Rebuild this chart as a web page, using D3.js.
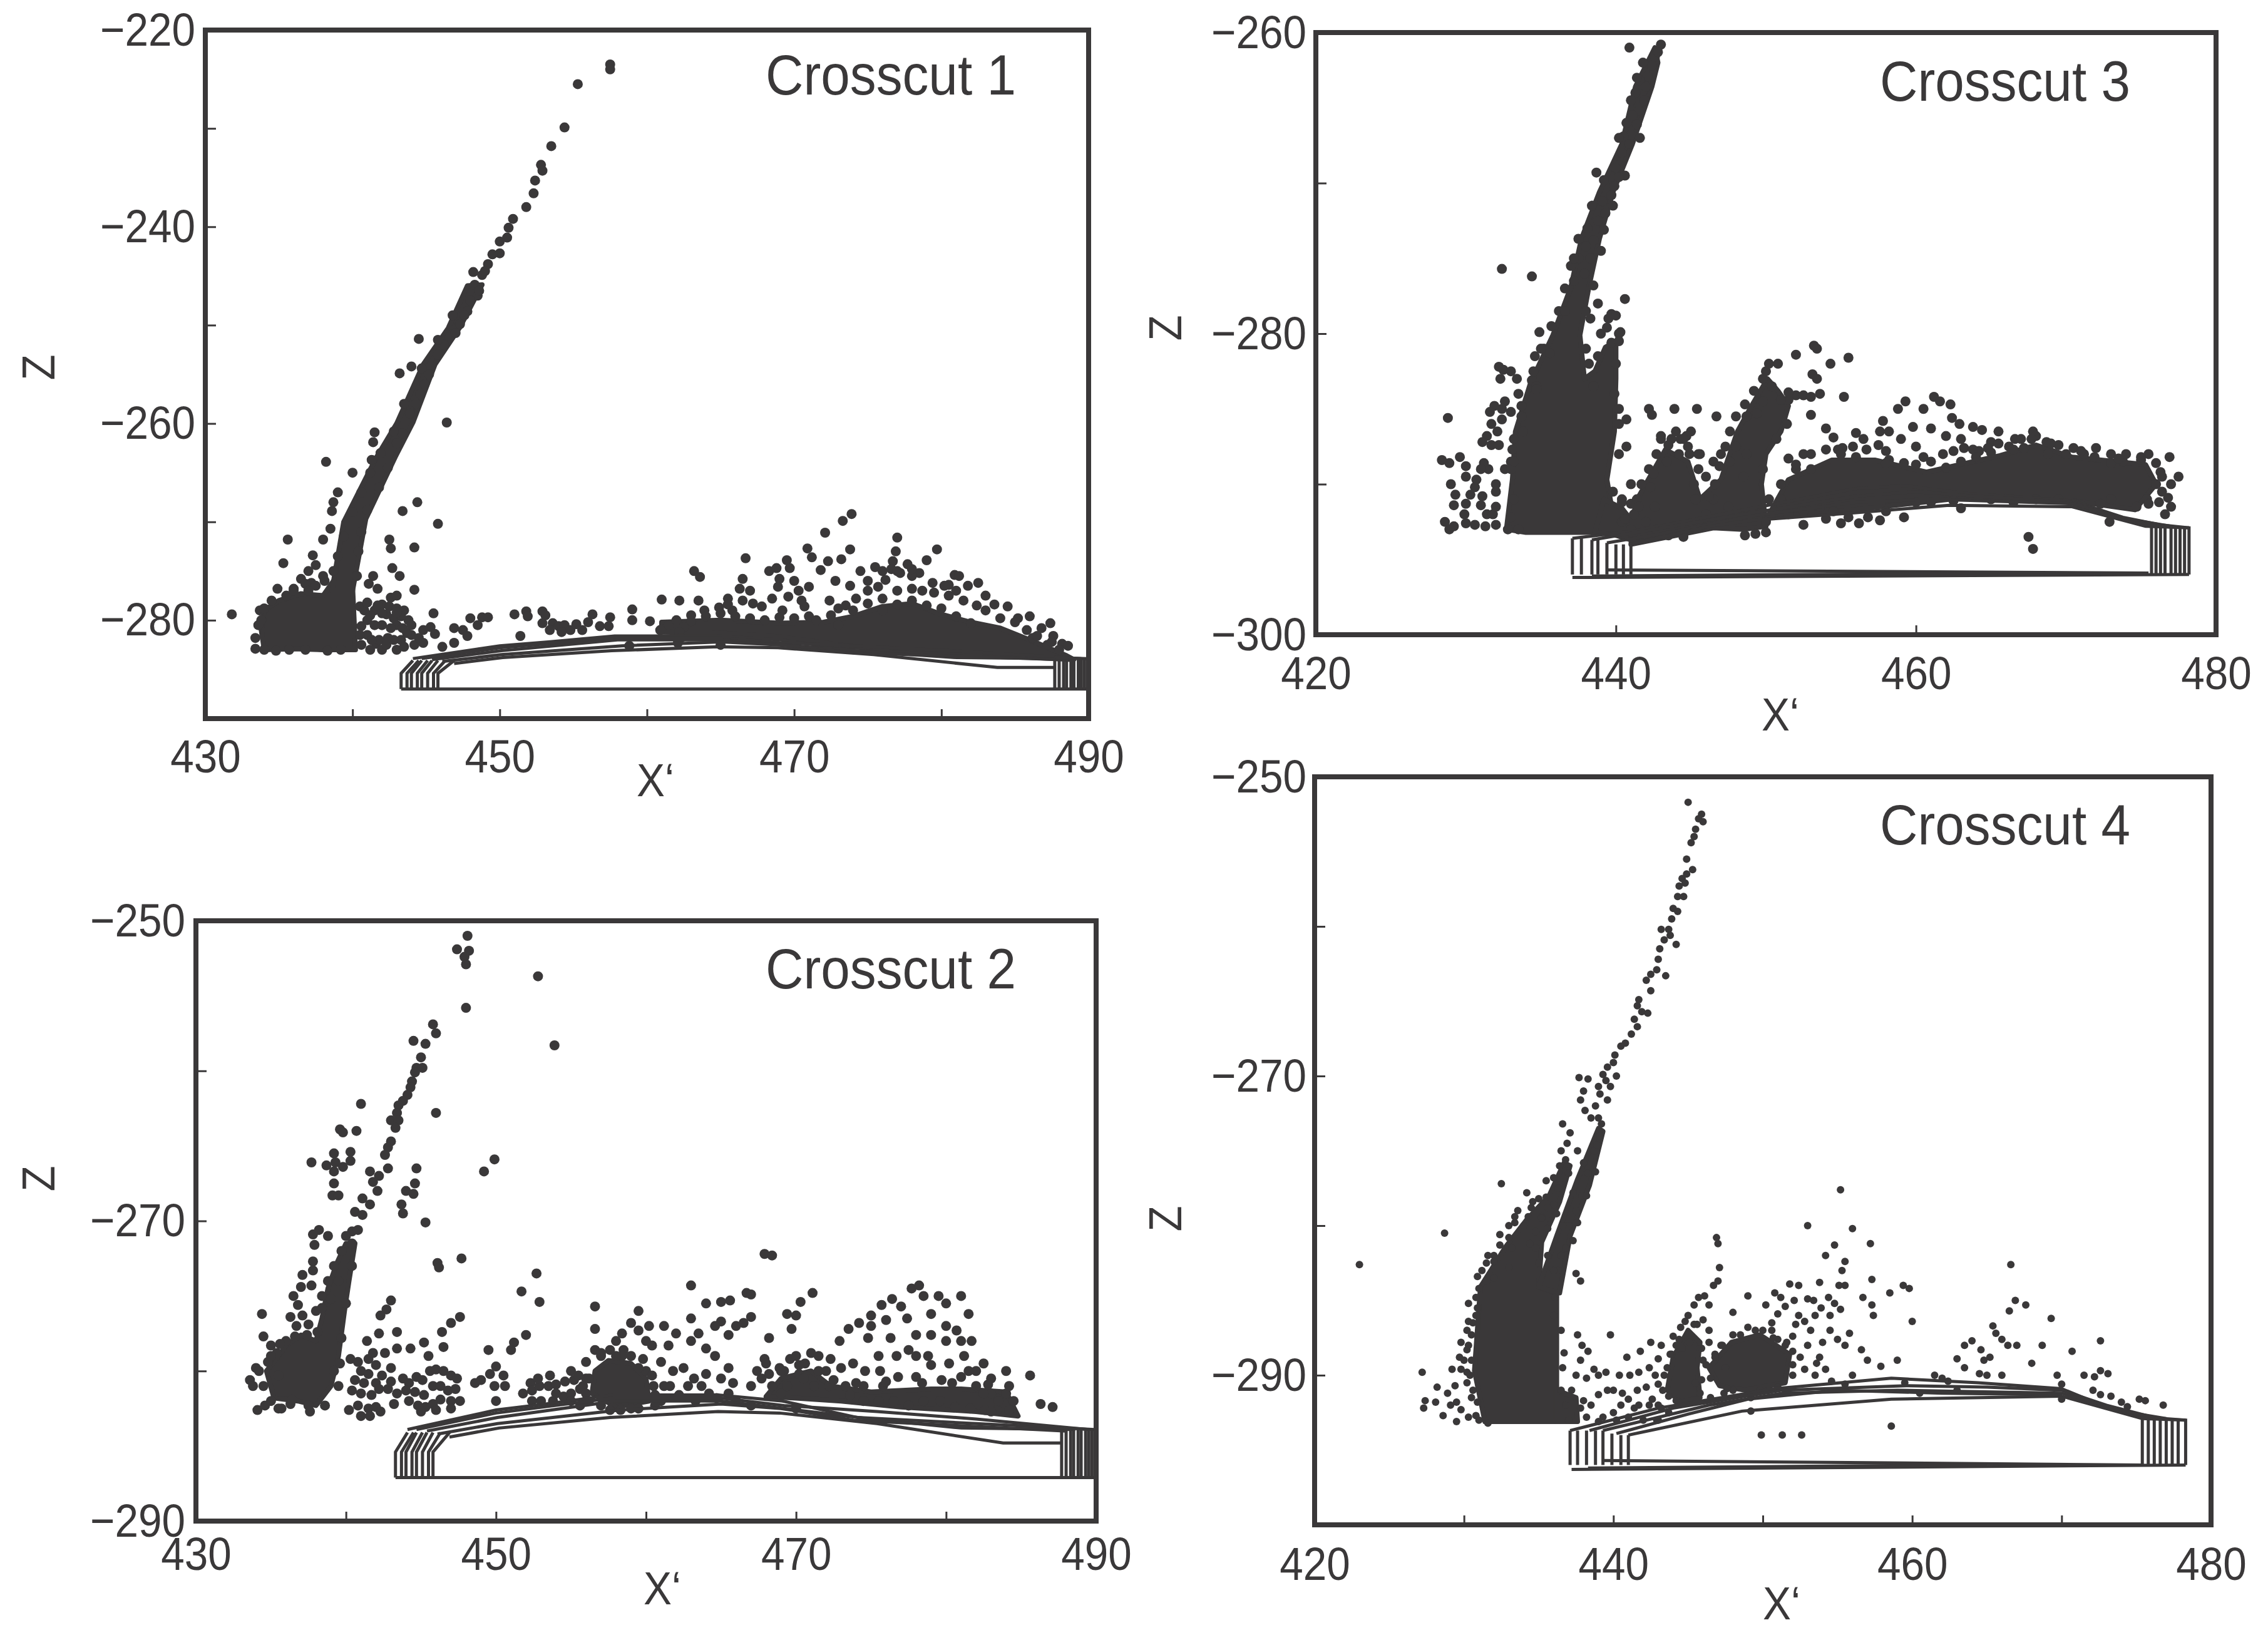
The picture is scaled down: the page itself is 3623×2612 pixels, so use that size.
<!DOCTYPE html>
<html>
<head>
<meta charset="utf-8">
<script src="https://cdn.jsdelivr.net/npm/d3@7"></script>
<style>
body { margin: 0; background: #fff; }
text { font-family: "Liberation Sans", Arial, sans-serif; fill: #3a3839; }
</style>
</head>
<body>
<div id="chart"></div>
<script>
var ink = "#3a3839";

// crosscut 1 : scattered events [x', z]
var cut1Dots = [[457.5,-223.5],[457.5,-224],[455.3,-225.5],[454.4,-229.9],[453.5,-231.8],[452.8,-233.7],[452.9,-234.3],[452.4,-235.3],[452.3,-236.6],[451.8,-238],[450.9,-239.2],[450.6,-240.1],[450.5,-241.1],[450,-241.5],[450,-242.7],[449.5,-242.8],[449.2,-243.8],[448.8,-244.9],[448.3,-245.9],[448.5,-247],[447.8,-248.6],[447.3,-249.9],[446.6,-251.2],
[444.5,-251.4],[443.2,-254.9],[444,-254.2],[444.7,-254.4],[446.4,-259.9],[441.5,-260.9],[441.4,-261.9],[441.3,-263.7],[438.2,-263.9],[440,-265],[439,-267],[438.7,-268],[444.4,-268],[443.4,-268.9],[445.8,-270.2],[438.6,-268.9],[438,-271.8],[438.5,-270.7],[435.6,-271.8],[442.5,-271.8],[442.6,-272.7],[444.2,-272.6],[435.3,-274.2],[437.3,-273.4],[437.5,-274.4],[437,-275],[436.5,-275.8],[442.7,-274.7],[443.2,-275.5],[441.4,-275.5],[441.1,-276.3],[441.7,-276.8],[444.2,-276.9],[434.9,-276.8],[431.8,-279.4],[436,-276.8],[437.2,-276.2],[438.1,-276],
[433.7,-279],[433.6,-280.5],[433.4,-281.8],[433.4,-282.9],[434,-283],[434.8,-283.1],[435.7,-283],[436.8,-283],[438.3,-283.1],[439.2,-283],
[440.5,-278.6],[441,-280],[441.5,-279],[442,-278.4],[442.5,-278.6],[443,-278.8],[443.5,-279],[441,-281.5],[441.6,-282.4],[442,-280.5],[442.4,-281.8],[443,-280.5],[443.3,-282],[443.8,-280],[444,-281.5],[440.6,-282.5],[441.2,-283],[442,-283],[443,-283],[444.2,-282.5],[441.5,-280.5],[442.8,-279.8],[440.8,-279],[441.8,-282],[442.6,-280.8],[443.4,-280.8],[440.6,-280.6],[442.3,-279.4],
[445.5,-279.3],[445.3,-280.7],[444.8,-281],[445.6,-281.4],[444.8,-282.3],[446.1,-282.7],[446.9,-280.8],[447.5,-281],[448,-279.8],[447.8,-281.6],[448.8,-279.7],[449.2,-279.7],[448.5,-280.5],[446.9,-282.3],
[451,-279.4],[451.8,-279.1],[451.9,-279.6],[451.4,-281.6],[452.9,-279.1],[453.1,-279.5],[452.9,-280.3],[453.6,-280.3],[454,-280.6],[454.4,-280.5],[454.8,-281],[455.2,-280.4],[455.6,-281],[453.4,-281],[454.2,-281.2],[456.3,-279.4],[456,-280.2],[456.8,-280.6],[457.5,-279.7],[457.4,-280.6],[459,-278.9],[459,-280],[460.2,-280.1],[458.8,-282.6],[461,-277.9],[462.2,-278],[462.1,-282.3],[465,-282.5],[461.5,-280.5],[460.9,-281],
[463.2,-275],[463.6,-275.6],[466.7,-273.7],[466.5,-275.8],[468.3,-275],[468.8,-274.7],[469.5,-273.9],[469.7,-274.7],[470.9,-272.7],[471.2,-273.6],[472.1,-271.1],[473.3,-269.9],[473.9,-269.2],[473.8,-272.8],[473.2,-273.8],[472.3,-274],[471.8,-274.9],[477,-271.6],[476.9,-273],[476.7,-274],[479.7,-272.8],[479,-273.9],[478.5,-275.2],[480.9,-275.4],[481.2,-275.5],[469,-275.8],[468.9,-276.6],[470,-276],[470.3,-277],[471,-276.6],[469.6,-277.6],[467,-277],[466.3,-276.8],[465.5,-277.8],[466.5,-278],[464.9,-278.7],[463.9,-279],[463,-279.5],[465.8,-279],[467.8,-278.6],[469.2,-279],[470.7,-278.6],[472.4,-278],[472.8,-276],[473.8,-276.5],[474.5,-275],[475.5,-274.6],[476,-275],[476.6,-274.8],[475,-276],[477.2,-275.2],[478,-275.5],[479.4,-276.2],[480.5,-276.4],[481,-277],[481.8,-276.5],[482.5,-276.2],[483,-277.5],[483.6,-278.4],[484.5,-278.6],[485.2,-279.8],[486,-279.6],[486.8,-280.8],[487.4,-280.3],[487.6,-281.6],[488.2,-282.4],[488.6,-282.6],[487.2,-282.5],[486.2,-281.8]];
var cut1More = [[449,-244.5],[448.6,-246.5],[448,-247.5],[447.6,-249],[447,-250.8],[446.2,-252],[445.8,-253],[445.2,-255],[444.9,-256],[444.3,-258],[443.9,-259],[443.4,-261],[443,-262],
[434.5,-278],[435.5,-277.5],[436,-277],[436.8,-276.3],[437.5,-276.5],[434,-278.8],[433.8,-280],[437,-277],[438,-275.5],
[441,-278.2],[441.7,-278.5],[442.6,-277.7],[443,-277.5],[440.5,-281.5],[441.3,-282],[442.3,-282.5],[443.5,-282.7],[444.5,-281.8],[443.7,-281.3],[442.8,-282],[441.2,-279.5],[442,-279.3],[443.3,-279.6],[443,-279.2],[444,-280.5],
[472.5,-279.5],[473,-278.8],[473.5,-278.5],[474.2,-277.8],[475,-277],[475.7,-276.6],[476.2,-275.9],[477,-275],[477.7,-274.3],[478,-274.8],[474,-279],[475,-278.3],[476,-277.8],[477,-277],[478,-276.8],[478.7,-277],[479.5,-277.2],[480.5,-277.5],[481.5,-278],[482.4,-278.5],[483,-279],[484,-279.8],[485,-280.2],[485.8,-281],[486.5,-281.6],[487.5,-282.2],[488,-283],[473,-280.5],[480,-278.8],[481,-279.6],[482,-280.3],[478,-278],[479,-278.5],[477,-278.4],[480.2,-276.5],[476,-279],
[462,-280],[463,-280.1],[464,-279.6],[465,-279.3],[466,-279.6],[467,-279.8],[468,-280],[469,-279.7],[470,-279.8],[471,-279.6],[471.5,-280],[465.5,-278.4],[467.2,-278.3],[468.5,-277.8],[470.5,-278],[463.5,-278],[462.5,-280.7],[462.2,-281.2],[462.3,-281.8]];
var cut1Edge = [[442.8,-260.8],[441.9,-263],[441.2,-265],[442.4,-264.5],[440.6,-267],[441.8,-266.5],[440,-269],[441,-268.8],[439.4,-271.5],[440.6,-271],[439,-273.5],[440.4,-273],[438.7,-275],[440.3,-275.5],[444.6,-257],[443.5,-258],[445.8,-251.5],[446.8,-249],[448.2,-244.6]];
var cut1Core = [
  [[434,-279],[435,-278],[436.5,-277.3],[438,-277.5],[438.7,-276],[440,-276.5],[440.2,-283],[438,-283],[436,-282.9],[434,-283],[433.8,-281]],
  [[438.6,-277],[439.4,-270],[441.6,-263.5],[443,-260],[444.8,-254],[446.5,-250.3],[447.8,-246],[448.8,-245.9],[447.3,-250.2],[445.6,-254],[444.1,-259.9],[442.9,-263.4],[440.9,-269.7],[440,-277]],
  [[461,-280.2],[465,-280],[469,-280.3],[472,-280.2],[474,-279.6],[476,-278.6],[478,-278.3],[480,-279.4],[482,-280.2],[484,-280.8],[486,-282],[488.5,-283.6],[489,-284],[480,-283.3],[474,-282.7],[469,-281.7],[465,-281.3],[461,-281.2]]
];

// crosscut 2
var cut2Dots = [[448.1,-251],[447.4,-251.9],[448.2,-252],[447.9,-252.4],[448,-252.9],[452.8,-253.7],[448,-255.8],[453.9,-258.3],[445.8,-256.9],[446,-257.5],[444.5,-258],[445.3,-258.2],[445,-259.1],[444.7,-259.8],[445.1,-259.8],[444.6,-260.1],[444.4,-260.7],[444.3,-261.1],[444.1,-261.6],[443.8,-262],[443.5,-262.3],[443.4,-262.8],[443,-263.3],[443.5,-263.3],[443.3,-263.8],[441,-262.2],[446,-262.8],[439.6,-263.9],[439.8,-264.1],[440.7,-264],[443,-264.7],[442.8,-265.1],[442.6,-265.6],[440.3,-265.4],[439.2,-265.5],[449.9,-265.9],[449.2,-266.7],[437.7,-266.1],[438.7,-266.3],[439.3,-266.1],[440.3,-266],[439.2,-266.7],[439.8,-266.4],[444.7,-266.5],[441.6,-266.7],[442.8,-266.5],[442.2,-267],[441.8,-267.4],[444.6,-267.5],[439.2,-267.5],[442.1,-268],[444,-268],[444.5,-268.2],[439.1,-268.3],[439.5,-268.3],[443.7,-268.9],[443.8,-269.5],[445.3,-270.1],
[441.1,-268.5],[441.6,-268.9],[440.6,-269.4],[441.1,-269.6],[440.4,-270.7],[440.8,-270.6],[440.4,-271.5],
[438.2,-270.6],[437.8,-270.9],[438.8,-271],[437.9,-271.6],[437.8,-272.7],[437.1,-273.6],[437.8,-273.3],[437,-274.4],[437.7,-274.3],[436.5,-275],[436.8,-275.6],[434.4,-276.2],[436.3,-276.4],[437.1,-276.3],[446.1,-272.8],[446.2,-273.1],[447.7,-272.5],[452.7,-273.5],[451.7,-274.7],[452.9,-275.4],[456.6,-275.7],[456.6,-277.2],[452,-277.6],[443,-275.3],[442.7,-275.9],[442.3,-276.3],[443.4,-277.4],[442.2,-277.5],[447.6,-276.4],[447,-276.8],[446.4,-277.4],[443.4,-278.5],[441.4,-278],[444.3,-278.5],[445.2,-278.1],[446.5,-278.4],[445.5,-279],[449.5,-278.6],[451.2,-278.1],[451,-278.6],
[434.5,-277.7],[435,-278.3],[434,-279.8],[433.6,-280.6],[433.8,-281],[434.1,-282.6],[434.6,-282.3],[435.5,-282.5],[436.3,-282.2],[438.6,-282.3],
[440.3,-279.2],[440.8,-279.4],[441.5,-279.2],[442,-279.6],[441,-280],[441.5,-280.2],[440.6,-280.6],[441.2,-280.8],[442,-280.8],[442.4,-280.3],[440.4,-281.3],[441,-281.5],[441.7,-281.6],[442.2,-281.2],[440.8,-282.3],[441.5,-282.5],[442,-282.4],[442.8,-281.2],[443,-280.7],[443.4,-281.5],
[443.8,-280.5],[444.2,-280.8],[444.7,-280.4],[445.1,-280.6],[445.6,-280],[446,-279.9],[446.5,-280],[447,-280.3],[447.4,-280.5],[444,-281.3],[444.6,-281.4],[445.2,-281.6],[445.8,-281],[446.3,-281],[446.8,-281.3],[447.3,-281.2],[444.2,-282],[444.8,-282.3],[445.3,-282.4],[445.8,-282.2],[446.3,-281.9],[447,-282],[447.6,-282],[448.6,-280.8],[449,-280.6],[449.6,-280.2],[450,-279.7],[450.5,-280.3],[449.9,-281],[450,-282],[450.6,-281],
[452.3,-280.8],[452.4,-281.3],[452.9,-281],[453.5,-281],[454,-280.9],[454.6,-280.7],[455.2,-280.6],[453,-282],[453.8,-282],[454.5,-281.7],[455,-281.5],[455.6,-281.2],[456,-279.4],[456,-280.5],[456.6,-278.6],[458,-278],[458.4,-277.5],[459.5,-277.3],[459,-276.8],[458.5,-278.6],[459.8,-279.2],[460.4,-278.3],[461,-279.4],[461.5,-278.3],[462,-277.5],[463,-276.5],[463.5,-277.5],[461.8,-280],[462.5,-279.8],[463.2,-280.5],[464,-280.2],[461.2,-281],[462.2,-281.6],[463.3,-282],[464.2,-281.5],[465,-280.5],[465.5,-279.8],[465.8,-280.8],[463,-278],[464,-278.5],[464.6,-279],
[463,-274.3],[464,-275.5],[465,-275.4],[465.6,-275.3],[466.7,-274.8],[467,-274.9],[467.9,-272.2],[468.4,-272.3],[465,-276.7],[466,-277],[466.5,-276.8],[467,-276.4],[464.6,-277],[465.5,-277.6],[469.4,-276.2],[470,-276.3],[470.3,-275.4],[471.1,-274.8],[469.7,-277.2],[468.2,-277.8],[467.7,-280.5],[467.9,-279.2],[468.2,-280.2],[468.9,-279.8],[469.2,-280],[469.6,-279.2],[470.2,-280.2],
[471.5,-279],[472.3,-279.2],[472.9,-278],[473.5,-277.2],[474.2,-276.8],[475,-276.3],[475.7,-275.6],[476.4,-275.2],[477,-275.7],[477.7,-274.5],[478.2,-274.3],[478.5,-275],[476,-276.6],[475,-277],[474.8,-277.8],[476.3,-277.8],[477.4,-276.5],[479,-276.2],[479.5,-275],[480,-275.5],[481,-275],[481.5,-276.2],[480.7,-277.3],[480,-278],[479,-279.6],[478,-279],[477.5,-278.6],[478.8,-279],[480.2,-279.5],[481.2,-279],[481,-280.4],[479.7,-280.6],[478,-280.4],[476.8,-280.4],[475.8,-281],[474.5,-281],[473.3,-281],[472.2,-281],[483,-280.5],[484,-280],[485.6,-280.3],[486.3,-282.2],[487.1,-282.4],[483,-281.5],[484,-281.5],[484.5,-282],[482,-281],[484.2,-282.6]];
var cut2More = [[434.2,-280],[434.5,-281],[435,-282],[435.5,-280.3],[434.8,-279.4],[435.4,-278.8],[436,-278],[436.7,-277],[437.5,-276.9],[438,-276],[438.4,-275],[438.8,-274],[439.2,-273],[439.7,-272],[440,-271],[437.5,-282.3],[436.4,-281.9],[439.5,-281],[439.2,-280],[435.7,-282.5],[437.6,-282.7],
[440.2,-282.6],[441,-283],[441.6,-283],[442.3,-282.7],[443.2,-282.2],[445,-282.7],[446,-282.6],[447,-282.5],[443,-279.8],[442.6,-278.8],[441.8,-278.8],
[451.8,-281.5],[452.4,-282],[455,-282],[455.6,-282.3],[456,-282],[452.8,-280.5],[453.6,-280.3],[455,-280],[454,-281.5],[455.5,-280.3],
[457,-279],[457.6,-278.6],[458.4,-279],[459,-279],[460,-280],[460.5,-281],[461,-282],[460.6,-282.3],[459,-282.5],[457.6,-282.6],[456.2,-282],[455.8,-281],[461.6,-281],[462.8,-281],[463.7,-281],[464.7,-281.8],[465.5,-281.5],[466,-282],[460,-278],[461.2,-277],[460.2,-277],[459.5,-276],
[467,-281],[467.4,-280],[468,-279.5],[468.4,-281],[469,-281.5],[470,-279],[470.6,-279.5],[471,-278.8],[471.5,-280],[472,-280],[469.4,-281],[470.5,-280.5],[471.2,-281],[470,-282.5],[467,-282.3],
[473,-279.8],[473.6,-281.6],[474.5,-282],[475.5,-282],[476.5,-282],[477.5,-282.3],[478.5,-282],[479.6,-282],[480.6,-282.4],[481.6,-282.5],[482.6,-282.6],[483.4,-282.6],[482.5,-281.5],[482,-280],[481.5,-280],[475.6,-280],[474.6,-280],[473.8,-279.5],[476.7,-279],[475.5,-279],[478,-277.6],[479,-277.6],[480,-277],[481.7,-278],[481,-278],[482.5,-279.5],[483.5,-282],[483,-282.7]];
var cut2Edge = [[456.2,-280.5],[456,-281.5],[457,-278.8],[458,-279],[459.5,-279.8],[460.4,-280.3],[460.6,-281.6],[459.5,-282.5],[458.3,-282.6],[457,-282.3],[435,-279],[435.6,-278.2],[436.6,-277.7],[437.4,-277.6],[438.1,-277.4],[438.4,-275.8],[439,-275.2],[439.5,-274],[440.4,-273],[440,-275.5],[439.7,-277.8],[439.6,-279.5],[469,-280],[470.2,-279.6],[472.5,-280.6],[474,-280.8],[476,-280.7],[478.4,-280.8],[480.4,-280.8],[482.8,-280.9],[484.2,-281]];
var cut2Core = [
  [[434.7,-280],[435.5,-279],[436,-278.3],[437,-277.6],[438,-278],[438.4,-276.5],[438.8,-274.5],[439.4,-272.8],[440,-271.5],[440.6,-271.5],[440.2,-274],[439.9,-276],[439.5,-279],[439,-281],[438,-282.3],[436.8,-282],[435.2,-281.8]],
  [[456.4,-281.5],[456.6,-280],[457.5,-279.3],[459,-279.5],[460,-280.5],[460.2,-282],[458,-282.4]],
  [[468,-281.7],[469,-280.5],[471,-280],[472.3,-281],[475,-281.4],[479,-281.2],[481,-281.2],[484,-281.4],[484.8,-283],[482,-282.7],[477,-282.4],[473,-282],[470,-281.8]]
];

// crosscut 3
var cut3Dots = [[440.9,-261],[443,-260.8],[442.6,-261.6],[442.4,-262.2],[442.1,-262.9],[441.6,-263.2],[442,-263.6],[441.3,-264],[441.9,-264.5],[441.5,-265.2],[441.1,-265.5],[441.4,-266.1],[441,-266.8],[440.5,-266.9],[440.9,-267.4],[440.4,-268],[440.6,-269.5],[440.2,-269.6],[439.9,-270.2],[439.7,-270.8],[438.7,-269.3],[439.1,-271.2],[439.3,-272],[438.8,-272.5],[439.2,-273.1],[438.5,-273.8],[437.5,-273.7],[438,-274.2],[437.5,-275],[438.3,-275],[437.9,-276],[437.2,-276.5],
[432.4,-275.7],[434.4,-276.2],[440.6,-277.7],[439.7,-278.7],[440.2,-280],[439.7,-280.6],[440.3,-279.9],[434.9,-279.9],[435.2,-281],[434.6,-281.5],[432.2,-282.2],[432.5,-282.4],[432.3,-283],[434.4,-283.1],[434.7,-283.5],[433.5,-284],[432.6,-284.5],[432.4,-285],[431.9,-284.8],[431.6,-285.2],[432.4,-285.7],[431.7,-286],[432.1,-286.5],[433,-285.2],[433.7,-285.5],[428.8,-285.6],[431.4,-286.8],[431.7,-287.4],[431.1,-287.2],[432.2,-287.4],[433.1,-287.7],[433,-288.5],[431.2,-288.6],[431.5,-289],[429.6,-288.2],[430,-288.8],[428.9,-288.6],[428.4,-288.4],[431,-289],[430.7,-289.7],[430,-289.5],[432,-290],[429,-290],[430.6,-290.2],[429.3,-290.7],[430.3,-290.7],[431.1,-290.8],[432,-290.5],[429.2,-291.4],[430,-291.3],[431,-291.4],[429.9,-292],[431.4,-292],[431.8,-292],[428.6,-292.5],[429.2,-292.8],[430,-292.6],[430.6,-292.7],[431.3,-292.8],[428.9,-293],[432,-291.5],[432,-292.7],[432.8,-293],[433,-292.2],[432.6,-289],
[440.7,-285.7],[440.7,-287.5],[440.2,-288],[441,-290],[442.2,-285],[442.4,-285.4],[443.9,-285],[445.4,-285],[446.7,-285.5],[445,-286.5],[444.7,-286.8],[444.3,-287],[443.7,-287],[443.5,-287.4],[444.2,-288],[444.9,-288],[445.6,-288],[443.4,-288.5],[446.9,-288.8],[445.5,-289],[445.2,-290],[440.4,-291],[441,-291.3],[441.2,-292],[440.4,-292.5],[441.4,-291],[442.3,-290.2],[442.6,-291.5],
[450.8,-282],[452,-281.4],[453.2,-280.8],[453.4,-281],[454.3,-282],[455.5,-281.6],[453.1,-282.7],[453.4,-283],[453.6,-284],[455.2,-284.2],[452,-284.1],[452.5,-284.1],[453,-284.2],[453,-285.4],[451.5,-284.4],[454,-286.3],[454.5,-286.9],[455.1,-287.6],[456,-286.6],[456.5,-287],[457.8,-285.8],[457.6,-286.5],[458.8,-285],[459.3,-284.5],[458.2,-286.5],[459,-287],[458,-287.8],[459.8,-286.2],[460.5,-285],[461.2,-284.2],[461.6,-284.5],[462.3,-284.7],[462.4,-285.6],[462.9,-286],[461,-286.3],[462,-286.8],[463,-287],[463.8,-286.2],[464.4,-286.4],[465.5,-286.5],[465,-287.2],[466.6,-287],[467.8,-286.5],[467.2,-287.6],[464.2,-287.8],[468.8,-288],[470,-288],[471.2,-288],[471.9,-288.2],[473,-288],[473.8,-288.5],[475.5,-288],[476.9,-288.2],[476.3,-289.2],[477.5,-289.5],[477,-290],[476,-290],[476.8,-290.9],[476.2,-291.2],[477,-291.5],[476.6,-292],[475.4,-291],[474.7,-291.5],[472.9,-292.5],[467.8,-294.3],[467.5,-293.5],[456.2,-292.6],[457.6,-292.4],[459.2,-292.2],[452.5,-292.7],[454,-292.3],[455,-292.6]];
var cut3More = [[433.4,-283],[433,-282.5],[433.2,-291],[433.5,-293],[433,-289],[433.2,-287],[433.7,-284.8],[434.5,-282.5],[435,-281],[435.7,-279.5],[436.2,-278.5],[436.6,-277],[437,-275.5],
[438.3,-279],[438.8,-278],[439.5,-279],[440,-278.8],[440.2,-280.5],[440,-282],[439.9,-284],[440.2,-285],[440.2,-286],[440.4,-291.2],[439.8,-290.5],[440.6,-292.3],[441,-293],[442,-292.5],[442.7,-293],[443.5,-293.4],[444.5,-293.5],[445.5,-292.8],[447,-292.5],[447.5,-291.5],[446.5,-291],[446,-292],[443,-287],[442.7,-288],[442.2,-289],[441.7,-290],[444.5,-287],[445.5,-288],[446,-289.5],[446.6,-290],[446.5,-288.5],[447.3,-287.5],[447.6,-286.5],[448,-285.5],[448.6,-284.7],[449.2,-283.8],[449.8,-283],[450,-282.5],[450.4,-283.5],[451,-284.4],[451.5,-283.9],[449.4,-285.3],[448.7,-288],[448.5,-289.5],[449.3,-293.3],[450,-293.2],[448.6,-293.4],
[451.5,-288.3],[452,-289],[452.5,-288],[453,-289],[454,-287.7],[454.8,-287.7],[455.8,-287.5],[456.7,-287.7],[457.5,-287.4],[458.2,-288.4],[459.2,-288.6],[460,-287.5],[460.5,-288.2],[461,-288.5],[461.8,-288],[462.5,-287.8],[463.2,-287.6],[463.8,-287.7],[464.8,-287.6],[465.5,-287.3],[466.2,-287.5],[467,-287],[468,-286.8],[468.7,-287.2],[469.5,-287.4],[470.5,-287.6],[472,-287.6],[473,-288.6],[474,-288],[475,-288.4],[476,-288.6],[476.4,-290.5],[475.5,-291.3],[473,-291],[472.3,-291.3],[471,-291.4],
[451,-291],[451.5,-292],[452.5,-291.8],[453.6,-291.5],[454.5,-291.8],[455.5,-292.2],[456.8,-292.2],[458,-291.8],[460,-291.2],[461,-291.2],[462.5,-291.1],[463,-291.6],[465,-291],[466.5,-291.2],[468,-291],[469.5,-291]];
var cut3Edge = [[438,-281],[438.2,-282],[438.8,-281.5],[439,-280],[438.5,-283.5],[439.4,-279.6],[441.8,-262],[441.4,-263],[442.8,-261.3],[441,-264.5],[440.7,-266],[440.2,-267],[441.6,-267],[440,-269],[439.2,-269.8],[439.8,-271.5],[438.4,-271.5],[438.1,-273],[439,-274.5],[437.2,-275],[438.5,-276.8],[436.6,-278.5],[438,-278.5],[435.6,-281.3],[434.7,-283.7],[433.8,-286.5],[433.2,-288.5],
[450.2,-282],[449.8,-284.5],[448.7,-285.5],[451.4,-286],[450.7,-287],[447.6,-288.5],[449.8,-289],[450.2,-291],[450,-292.5],[448,-287.5],[447,-288],[443,-286.8],[444,-286.5],[442.5,-289.3],[441.5,-291.5],[444.8,-287.5],[445.3,-291],[446.2,-290.8],
[451,-290],[452,-288.7],[453,-288],[455,-288],[456,-288.2],[458,-288.6],[460,-288.7],[462,-288.9],[463,-288.5],[464,-288.2],[465,-287.9],[466.5,-287.7],[467.7,-287],[469,-287.3],[471,-287.8],[473.5,-288.3],[475,-288.2],[476.4,-289.5]];
var cut3Core = [
  [[432.7,-293],[433.1,-289.7],[433.3,-286.5],[434.3,-283.3],[435.8,-280.1],[437,-276.9],[437.7,-273.7],[438.9,-270.6],[440.4,-267.4],[441.3,-263.6],[442.6,-261],[442.8,-262],[442.4,-263.6],[441.1,-267.4],[439.8,-270.6],[438.9,-273.7],[438.2,-276.9],[437.6,-280.1],[437.9,-283],[438.6,-282.5],[439.3,-280.9],[440,-280.5],[440,-283],[439.9,-286.5],[439.4,-289.7],[439.8,-292],[439,-293.2],[436,-293.2],[434,-293.2]],
  [[441,-294],[441.3,-291.2],[443.3,-287.7],[444.8,-288.5],[445.6,-291],[447,-289.7],[448.1,-286.5],[449.1,-284.7],[450.1,-283],[450.8,-283.8],[451.5,-284.8],[451,-286.5],[450,-288],[449.7,-290],[450,-292.8],[448.5,-293],[446.5,-292.9],[444,-293.4]],
  [[450.1,-292.2],[451.5,-289.7],[454.4,-288.4],[457.3,-288.4],[460.7,-289.2],[465.6,-288.1],[468,-287.4],[470.4,-288.2],[475.3,-288.7],[476,-290],[474.6,-291.7],[470.4,-291.1],[463.2,-290.9],[455.9,-291.7]],
  [[438.6,-293.2],[439.2,-291],[440.4,-291.6],[441.5,-293],[441,-293.7],[440,-293.4]]
];

// crosscut 4
var cut4Dots = [[445,-251.7],[445.9,-252.5],[445.7,-252.8],[446,-253],[445.5,-253.5],[445.4,-254],[445.2,-254.4],[444.9,-255.5],[445.3,-256.2],[444.9,-256.5],[444.6,-256.8],[444.4,-257.3],[444.8,-257.1],[444.3,-258],[444.7,-258],[444,-258.8],[444.3,-259],[443.9,-259.5],[443.7,-260.2],[443.2,-260.2],[443.4,-260.9],[444.2,-261.2],[443.8,-260.6],[443.1,-261.5],[443,-262.2],[442.9,-262.9],[442.5,-263.2],[442.2,-263.6],[443.5,-263.3],[442.5,-264.3],[441.7,-264.9],[441.6,-265.3],[441.9,-265.7],[442.3,-265.8],[441.4,-266.2],[441.6,-266.7],[441.2,-267.2],[440.8,-267.8],[440.5,-268],[440.1,-268.6],[440,-269.1],[439.6,-269.4],[439.3,-269.9],[440.2,-270],[439.5,-270.3],[439,-270.7],[439.1,-271.2],[438.8,-272],[438.5,-272.8],[437.7,-270.1],[438.3,-270.2],[438,-271],[437.8,-271.6],[438.1,-272.3],[439.6,-271.6],[439.8,-270.7],[436.6,-273.2],[437.1,-273.8],[436.9,-274.5],[436.5,-275],[436.8,-275.6],[437.6,-275],[436.4,-276],[437,-276.5],
[432.5,-277.2],[434.2,-277.8],[435.5,-278.1],[436,-278.6],[435.2,-279.4],[434.3,-279.4],[433.4,-279.8],[434,-280],[428.7,-280.5],[433,-280.8],[432.4,-281.3],[434.4,-281.2],[433.2,-281.5],[432,-282.4],[433,-282.8],[423,-282.6],[431.2,-283],[431.5,-283.7],[431,-284.2],[430.9,-285.5],[430.3,-286.4],[430.5,-287.3],[430.2,-288.3],[429.7,-288.8],[429.8,-289.6],[429.2,-289.6],[427.2,-289.8],[430.2,-290.5],[429.4,-290.7],[428.2,-290.8],[428.9,-291.2],[429.5,-291.8],[428.1,-291.8],[427.4,-291.7],[427.3,-292.2],[429.1,-292],[429.8,-292.3],[428.6,-292.7],[429.5,-293.1],[430.3,-292.8],[430.5,-291.5],[430.2,-289.8],[430.8,-292.7],
[437.8,-283.7],[437.5,-283.2],[437.6,-287.3],[437.9,-288],[438.3,-288.4],[437.8,-289],[437.5,-290],[437.2,-291],[438,-291.7],[438.7,-289.6],[438.2,-290.2],[439.5,-289.8],[439.8,-287.3],[440.9,-288.8],[441.1,-290],[441.7,-289.8],[442.4,-289.5],[443,-288.9],[443,-290.6],[442.2,-290.8],[441.7,-292],[441,-292.8],[440,-292.5],[439.3,-292.8],[438.2,-292.8],[440,-291],[439,-291.3],[440.6,-291.2],[441.6,-291],[442.6,-291.6],[442.4,-292],[443.2,-292.2],[444,-287.4],[443.9,-288.6],[444.6,-288.2],[445.1,-287.8],[445.6,-286.6],[446.4,-285.3],[446.1,-284.7],[447,-283.7],[447.1,-282.8],[446.7,-284],[447,-281.2],[446.9,-280.8],[447.2,-288],[448,-285.8],[449,-284.7],
[450.2,-285.3],[450.6,-286.5],[451,-285.9],[451.5,-285.4],[452.1,-285],[452.4,-286],[453,-284.9],[453.8,-283.8],[454.4,-284.8],[454.8,-285.2],[455.2,-285.6],[454.5,-286],[453.2,-287],[452,-287.4],[451.6,-287.8],[453,-288],[454,-287.8],[455,-287.6],[455.5,-288],[453.8,-288.8],[452.5,-288.8],[453.5,-290],[454.6,-290.4],[455.5,-290.6],[456,-290],[455.2,-277.6],[453,-280],[456,-280.2],[454.8,-281.3],[455.5,-282.4],[457.2,-281.2],[457.3,-283.6],[455.3,-283],[454.2,-282],[455.5,-284],[455.1,-284],[456.7,-284.8],[457.3,-285.3],[458.5,-284.5],[459.4,-284],[459.8,-284.2],[460,-286.4],[457.4,-286],[456.6,-288.3],[457,-289],[457.9,-289.4],[459.5,-290.5],[459,-289],[460.5,-291.2],
[461.5,-290],[462,-290.2],[463,-291],[462.4,-290.4],[463.5,-289.5],[463,-288.9],[463.5,-288],[464,-287.7],[464.6,-288.3],[464.8,-289],[465,-290],[464.5,-289.9],[466,-290],[465.2,-288.8],[465.4,-286.7],[465.6,-287.2],[466,-287.6],[466.6,-282.6],[466.5,-285.7],[466.4,-288],[467,-288],[466.9,-285],[467.6,-285.3],[468,-289.2],[468.7,-288],[469.3,-286.2],[470.7,-288.4],[472.6,-287.7],[471.5,-290],[472.2,-290.1],[472.6,-289.7],[473.1,-289.9],[469.7,-290],[470,-290.6],[472.1,-291],[472.6,-291.3],[473.3,-291.4],[474,-291.8],[475.2,-291.6],[475.6,-291.7],[476.8,-292],[474.4,-292.1],[449.2,-292.4],[449.9,-294],[451.3,-294],[452.6,-294],[458.6,-293.4],[470,-291.6]];
var cut4More = [[432,-282],[431.5,-282.5],[432,-283.5],[433,-280],[433.6,-279],[434.5,-278.8],[435,-278.2],[436,-276.8],[436.3,-277.5],[435.2,-279.5],[435.6,-280.2],[434.8,-281.5],[435,-282.5],[430.8,-284.8],[430.3,-285.2],[430.6,-286.5],[430.2,-287],[429.8,-287.8],[430.3,-288],[430,-289],[430.6,-291],[430.9,-291.8],[431,-293],[431.6,-293.2],
[436.3,-283],[436.8,-281.5],[437,-280],[437.5,-279],[437.9,-278],[438.3,-276.5],[438.7,-275],[439.1,-274],[439.2,-273.2],[439,-272.8],[436.5,-282],[437.3,-281],[436.1,-284.8],[436,-286],[436.5,-287],[436.7,-288.5],[436.6,-289.5],[436.5,-291],[436.8,-292],[437,-293],
[437.8,-292.2],[438.5,-292],[439,-290],[439.6,-291],[440.4,-290],[440.5,-292],[441.4,-292.2],[442,-293],[442.9,-293],[443.7,-292.5],[443,-292],[444.2,-288],[444.5,-286.8],[445,-286],[445.4,-285.3],[445.7,-284.8],[446,-286.3],[446.4,-287],[446.4,-287.8],[446.8,-288.6],[445.5,-290.5],[445.8,-291.2],[446.5,-291.5],[443.6,-289.5],[443.3,-291],[442.8,-290],[441.8,-288.4],[442.5,-287.8],[443.2,-288],
[447.5,-289.5],[448,-287.3],[449,-286.8],[450,-287],[450.6,-287],[451,-287.6],[452,-288.4],[450.4,-291],[449.2,-291.5],[448,-291],[447.4,-291.2],[451.2,-284.8],[450.8,-284.5],[452.8,-286.4],[453.5,-286],[452.4,-284],[451.8,-283.9],[452.2,-286.6],[453.4,-285],[453.9,-285.5],[454.5,-287],[455.8,-287.2],[452.8,-289.6],[453.6,-289.2],[454.2,-289.6],[451.5,-291]];
var cut4Edge = [[446.8,-288.8],[447.3,-288],[448.5,-287.3],[449.5,-287],[450.7,-287.5],[451.5,-288],[452,-289.3],[452,-290],[451,-290.8],[449.8,-291],[447.6,-290.9],[446.5,-290.2],[446.2,-289.3],
[443.4,-290],[443.8,-288.6],[444.4,-287.6],[444.8,-286.4],[445.4,-286.6],[445.9,-288.2],[446,-289],[445.9,-290.3],[444.2,-291.7],[443.7,-291.4],
[430.9,-283.4],[431.6,-282],[432.4,-280.6],[433.4,-279.4],[434.6,-278.4],[435.5,-277],[434.8,-280.4],[435.6,-278.8],[436.2,-279.2],[438,-275.8],[437.3,-277.8],[436.6,-280],[437.6,-279.8],[438.2,-278],[438.8,-276.4],[438.9,-274.6],[436,-283],[435.6,-282],[430.5,-289],[430.4,-290],[430.8,-286],[441,-291.6],[443,-293],[439,-293.1],[440.2,-293]];
var cut4Core = [
  [[431.4,-293.1],[430.7,-289.7],[431.1,-284.1],[432.8,-281.4],[434.2,-279.6],[435.7,-278],[436.7,-275.8],[437.1,-276],[436.4,-278.4],[435.2,-281.1],[435,-284.1],[436.2,-284.5],[436.2,-293.1]],
  [[435,-284.1],[436.2,-280.7],[437.6,-276.9],[439,-273.5],[439.3,-273.7],[438.4,-277.3],[437.1,-280.7],[436.4,-284.5]],
  [[446.4,-289.5],[447.9,-287.8],[449.8,-287.3],[451.8,-288.6],[451.5,-290.5],[448.8,-291],[447.1,-290.7]],
  [[443.6,-291],[444,-288.8],[445,-287],[445.8,-287.8],[445.6,-289.5],[445.8,-291.5],[444.5,-291.8]],
  [[436.2,-293.1],[436.2,-291],[437.5,-291.5],[437.6,-293.1]]
];

// foundation outline : arch polylines, comb of verticals, base lines
var arch12 = [
  [[444.1,-283.9],[450,-282.6],[453.3,-282.2],[457.8,-281.6],[464.8,-281.6],[469.1,-282],[474.1,-283.1],[480,-283.4],[489.9,-283.9]],
  [[444.7,-283.9],[450,-282.8],[457.8,-281.8],[465,-281.8],[469.2,-282.3],[475.4,-282.7],[482,-283.2],[489.5,-283.9]],
  [[445.4,-284],[450.1,-283.1],[458,-282],[465,-282],[470,-282.6],[475,-283.2],[481,-283.8],[488.6,-283.9]],
  [[446.1,-284.2],[450.1,-283.5],[458.3,-282.6],[465,-282.2],[469,-282.5],[474,-283.3],[488,-284]],
  [[446.9,-284.4],[450.2,-283.8],[457.6,-283.1],[464.8,-282.7],[468.9,-282.8],[475.4,-283.5],[483.8,-284.8],[487.7,-284.8]]
];
var combLeft12 = [443.3,443.7,444,444.4,444.7,445.1,445.5,445.8];
var shoulderLeft12 = [444.1,444.5,444.7,445.1,445.4,445.8,446.3,446.9];
var combRight12 = [487.7,488,488.3,488.5,488.8,489,489.3,489.5,489.7,489.9];

var arch3 = [
  [[437.1,-293.6],[441.3,-293.1],[449.1,-291.6],[455.9,-290.3],[459.3,-290.1],[463.2,-290.6],[470.4,-291.1],[473.8,-292.2],[476.3,-292.7],[478.2,-292.9]],
  [[438.4,-293.7],[442,-293.1],[449.1,-291.9],[456,-290.8],[460,-290.5],[464,-290.8],[470.4,-291.2],[474,-292.3],[477,-292.8]],
  [[439.4,-293.9],[443,-293.3],[449.1,-292.1],[456,-291.2],[461,-291],[470.4,-291.3],[474.3,-292.5],[476.3,-292.8]],
  [[440.9,-294],[446.2,-292.8],[449.1,-292.4],[455.9,-291.9],[462.2,-291.4],[470.4,-291.5],[475.3,-292.8],[478.2,-292.9]]
];
var combLeft3 = [437.1,437.7,438.4,438.8,439.4,440,440.5,441];
var combTopLeft3 = [-293.6,-293.6,-293.7,-293.7,-293.9,-294,-294,-294];
var combRight3 = [475.7,476,476.3,476.6,477,477.3,477.6,477.9,478.2];
var base3 = [
  [[437.1,-296.2],[478.2,-296]],
  [[439.4,-295.7],[475.5,-295.9]],
  [[438.4,-296.1],[470,-295.9]]
];

var arch4 = [
  [[437.1,-293.7],[443,-292.2],[450.8,-290.9],[458.6,-290.2],[464.4,-290.5],[470,-290.9],[472.2,-291.8],[475.6,-292.8],[478.3,-293]],
  [[438.4,-293.7],[444,-292.2],[451.3,-291],[459.6,-290.7],[465,-290.8],[470,-291],[473,-292],[476.5,-292.9]],
  [[439.3,-293.7],[446.4,-292],[451.3,-291.2],[459,-291],[470,-291.2],[474,-292.4],[477,-292.9]],
  [[441,-294],[448.6,-292.4],[458.6,-291.6],[470,-291.4],[475.4,-292.9],[478.3,-293]],
  [[440.2,-293.9],[445,-292.6],[449,-291.6],[455,-291],[462,-291.2],[470,-291.3]]
];
var combLeft4 = [437.1,437.6,438.2,438.8,439.3,439.9,440.5,441];
var combTopLeft4 = [-293.7,-293.7,-293.7,-293.7,-293.7,-293.9,-294,-294];
var combRight4 = [475.4,475.8,476.2,476.6,477,477.4,477.8,478.3];
var base4 = [
  [[437.2,-296.3],[478.3,-296]],
  [[439.3,-295.7],[475.4,-296]],
  [[438.3,-296.2],[465,-296]]
];

var panels = [
  { title: "Crosscut 1", dots: cut1Dots.concat(cut1More, cut1Edge), core: cut1Core, arches: arch12, r: 8,
    box: [328,1739,48,1148], xd: [430,490], zd: [-290,-220],
    xt: [440,450,460,470,480], xl: [430,450,470,490], zt: [-230,-240,-250,-260,-270,-280], zl: [-220,-240,-260,-280],
    combL: combLeft12, shL: shoulderLeft12, combR: combRight12, baseZ: -287, leftTop: -285.4, shTop: -284.1, rightTop: -284,
    base: [[[443.3,-287],[490,-287]]],
    titleAt: [1223,151], xAt: [1047,1272], zAt: [60,587], pad: 33, ypad: 16 },
  { title: "Crosscut 2", dots: cut2Dots.concat(cut2More, cut2Edge), core: cut2Core, arches: arch12, r: 8,
    box: [313,1751,1471,2430], xd: [430,490], zd: [-290,-250],
    xt: [440,450,460,470,480], xl: [430,450,470,490], zt: [-260,-270,-280], zl: [-250,-270,-290],
    combL: combLeft12, shL: shoulderLeft12, combR: combRight12, baseZ: -287.1, leftTop: -285.4, shTop: -284.1, rightTop: -283.9,
    base: [[[443.3,-287.1],[490,-287.1]]],
    titleAt: [1223,1579], xAt: [1058,2563], zAt: [60,1883], pad: 25, ypad: 17 },
  { title: "Crosscut 3", dots: cut3Dots.concat(cut3More, cut3Edge), core: cut3Core, arches: arch3, r: 8,
    box: [2102,3540,52,1014], xd: [420,480], zd: [-300,-260],
    xt: [440,460], xl: [420,440,460,480], zt: [-270,-280,-290], zl: [-260,-280,-300],
    combL: combLeft3, topL: combTopLeft3, combR: combRight3, baseZ: -296, rightTop: -292.8,
    base: base3,
    titleAt: [3003,161], xAt: [2844,1167], zAt: [1860,524], pad: 34, ypad: 15 },
  { title: "Crosscut 4", dots: cut4Dots.concat(cut4More, cut4Edge), core: cut4Core, arches: arch4, r: 6,
    box: [2100,3532,1241,2436], xd: [420,480], zd: [-300,-250],
    xt: [430,440,450,460,470], xl: [420,440,460,480], zt: [-260,-270,-280,-290], zl: [-250,-270,-290],
    combL: combLeft4, topL: combTopLeft4, combR: combRight4, baseZ: -296, rightTop: -292.9,
    base: base4,
    titleAt: [3003,1349], xAt: [2846,2587], zAt: [1860,1947], pad: 35, ypad: 13 }
];

var svg = d3.select("#chart").append("svg")
  .attr("width", 3623)
  .attr("height", 2612)
  .style("display", "block");

var narrow = 0.9;

function drawPanel(p) {
  var x = d3.scaleLinear().domain(p.xd).range([p.box[0], p.box[1]]);
  var z = d3.scaleLinear().domain(p.zd).range([p.box[3], p.box[2]]);
  var line = d3.line().x(function(d) { return x(d[0]); }).y(function(d) { return z(d[1]); });
  var g = svg.append("g");

  // solid parts of the cloud, too dense to see single events
  g.selectAll("path.core").data(p.core).enter().append("path")
    .attr("class", "core")
    .attr("d", function(d) { return line(d) + "Z"; })
    .attr("fill", ink)
    .attr("stroke", ink)
    .attr("stroke-width", 8)
    .attr("stroke-linejoin", "round");

  g.selectAll("circle").data(p.dots).enter().append("circle")
    .attr("cx", function(d) { return x(d[0]); })
    .attr("cy", function(d) { return z(d[1]); })
    .attr("r", p.r)
    .attr("fill", ink);

  // foundation outline
  var segs = p.arches.concat(p.base);
  p.combL.forEach(function(v, i) {
    if (p.shL) segs.push([[v,p.baseZ],[v,p.leftTop],[p.shL[i],p.shTop]]);
    else segs.push([[v,p.baseZ],[v,p.topL[i]]]);
  });
  p.combR.forEach(function(v) {
    segs.push([[v,p.baseZ],[v,p.rightTop]]);
  });
  g.selectAll("path.outline").data(segs).enter().append("path")
    .attr("class", "outline")
    .attr("d", line)
    .attr("fill", "none")
    .attr("stroke", ink)
    .attr("stroke-width", 5);

  // ticks inward, labels only on every other one
  var xAxis = d3.axisBottom(x).tickValues(d3.merge([p.xl, p.xt]).filter(function(v, i, a) { return a.indexOf(v) == i; }))
    .tickSize(-15).tickPadding(p.pad)
    .tickFormat(function(v) { return p.xl.indexOf(v) >= 0 ? v : ""; });
  var zAxis = d3.axisLeft(z).tickValues(d3.merge([p.zl, p.zt]).filter(function(v, i, a) { return a.indexOf(v) == i; }))
    .tickSize(-17).tickPadding(p.ypad)
    .tickFormat(function(v) { return p.zl.indexOf(v) >= 0 ? "\u2212" + Math.abs(v) : ""; });

  var ax = g.append("g").attr("transform", "translate(0," + p.box[3] + ")").call(xAxis);
  var az = g.append("g").attr("transform", "translate(" + p.box[0] + ",0)").call(zAxis);
  ax.select(".domain").remove();
  az.select(".domain").remove();
  ax.selectAll("line").attr("stroke", ink).attr("stroke-width", 3);
  az.selectAll("line").attr("stroke", ink).attr("stroke-width", 3);
  // edge ticks lie on the frame
  ax.selectAll(".tick").filter(function(v) { return v == p.xd[0] || v == p.xd[1]; }).select("line").remove();
  az.selectAll(".tick").filter(function(v) { return v == p.zd[0] || v == p.zd[1]; }).select("line").remove();
  // the reference type is slightly condensed
  ax.selectAll("text").style("font-size", "75px").style("font-family", "Liberation Sans")
    .attr("transform", "scale(" + narrow + ",1)");
  az.selectAll("text").style("font-size", "75px").style("font-family", "Liberation Sans")
    .attr("x", -p.ypad / narrow)
    .attr("transform", "scale(" + narrow + ",1)");

  g.append("rect")
    .attr("x", p.box[0]).attr("y", p.box[2])
    .attr("width", p.box[1] - p.box[0]).attr("height", p.box[3] - p.box[2])
    .attr("fill", "none")
    .attr("stroke", ink)
    .attr("stroke-width", 8);

  g.append("text")
    .attr("transform", "translate(" + p.titleAt[0] + "," + p.titleAt[1] + ") scale(0.93,1)")
    .style("font-size", "90px").text(p.title);
  g.append("text")
    .attr("transform", "translate(" + p.xAt[0] + "," + p.xAt[1] + ") scale(" + narrow + ",1)")
    .attr("text-anchor", "middle").style("font-size", "75px").text("X\u2018");
  g.append("text").attr("text-anchor", "middle").attr("dy", "0.36em")
    .attr("transform", "translate(" + p.zAt[0] + "," + p.zAt[1] + ") rotate(-90) scale(" + narrow + ",1)")
    .style("font-size", "75px").text("Z");
}

panels.forEach(drawPanel);
</script>
</body>
</html>
